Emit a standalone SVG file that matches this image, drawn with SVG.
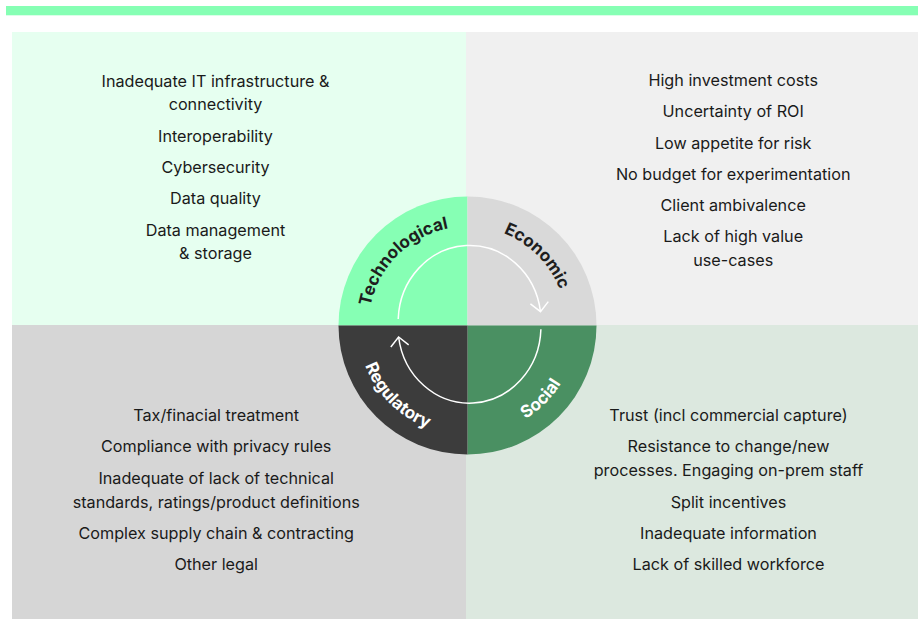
<svg xmlns="http://www.w3.org/2000/svg" width="918" height="632" viewBox="0 0 918 632">
  <style>
    .item { font-family: Inter, "Liberation Sans", Arial, sans-serif; font-size: 16.2px; fill: #1a1a1a; text-anchor: middle; }
    .seg { font-family: Inter, "Liberation Sans", Arial, sans-serif; font-size: 17px; font-weight: 700; text-anchor: middle; }
    .dark { fill: #1e1e1e; }
    .light { fill: #ffffff; }
    .cycle { fill: none; stroke: #ffffff; stroke-width: 1.5; }
  </style>
  <defs>
    <marker id="chev" markerUnits="userSpaceOnUse" markerWidth="24" markerHeight="24" refX="12" refY="12" orient="auto" viewBox="0 0 24 24">
      <path d="M3,3 L12,12 L3,21" fill="none" stroke="#ffffff" stroke-width="1.5"/>
    </marker>
    <path id="arcTop" d="M368.5,325.5 A99,99 0 0 1 566.5,325.5"/>
    <path id="arcBottom" d="M357.5,325.5 A110,110 0 0 0 577.5,325.5"/>
  </defs>

  <rect width="918" height="632" fill="#ffffff"/>
  <!-- header strip -->
  <rect x="6" y="6" width="912" height="9.3" fill="#86ffb4"/>

  <!-- quadrant backgrounds -->
  <rect x="12" y="32" width="454" height="293" fill="#e6fff0"/>
  <rect x="466" y="32" width="452" height="293" fill="#f0f0f0"/>
  <rect x="12" y="325" width="454" height="294" fill="#d6d6d6"/>
  <rect x="466" y="325" width="452" height="294" fill="#dce8df"/>

  <!-- central wheel -->
  <g id="technological">
    <path d="M467.5,325.5 L338.5,325.5 A129,129 0 0 1 467.5,196.5 Z" fill="#86ffb4"/>
    <text class="seg dark"><textPath href="#arcTop" startOffset="25%">Technological</textPath></text>
  </g>
  <g id="economic">
    <path d="M467.5,325.5 L467.5,196.5 A129,129 0 0 1 596.5,325.5 Z" fill="#d9d9d9"/>
    <text class="seg dark"><textPath href="#arcTop" startOffset="75%">Economic</textPath></text>
  </g>
  <g id="social">
    <path d="M467.5,325.5 L596.5,325.5 A129,129 0 0 1 467.5,454.5 Z" fill="#4a9062"/>
    <text class="seg light"><textPath href="#arcBottom" startOffset="75%">Social</textPath></text>
  </g>
  <g id="regulatory">
    <path d="M467.5,325.5 L467.5,454.5 A129,129 0 0 1 338.5,325.5 Z" fill="#3c3c3c"/>
    <text class="seg light"><textPath href="#arcBottom" startOffset="25%">Regulatory</textPath></text>
  </g>

  <!-- cycle arrows -->
  <g id="connectors">
    <path class="cycle" d="M398.2,319 A71.5,76.5 0 0 1 540.5,311.7" marker-end="url(#chev)"/>
    <path class="cycle" d="M540.9,329.3 A71.5,76.5 0 0 1 398.6,337" marker-end="url(#chev)"/>
  </g>

  <!-- barrier lists -->
  <g id="technological-list">
    <text class="item" x="215.5" y="86.5">Inadequate IT infrastructure &amp;</text>
    <text class="item" x="215.5" y="110">connectivity</text>
    <text class="item" x="215.5" y="141.7">Interoperability</text>
    <text class="item" x="215.5" y="172.7">Cybersecurity</text>
    <text class="item" x="215.5" y="203.5">Data quality</text>
    <text class="item" x="215.5" y="235.5">Data management</text>
    <text class="item" x="215.5" y="259.3">&amp; storage</text>
  </g>
  <g id="economic-list">
    <text class="item" x="733.2" y="86">High investment costs</text>
    <text class="item" x="733.2" y="117.3">Uncertainty of ROI</text>
    <text class="item" x="733.2" y="148.5">Low appetite for risk</text>
    <text class="item" x="733.2" y="179.5">No budget for experimentation</text>
    <text class="item" x="733.2" y="210.7">Client ambivalence</text>
    <text class="item" x="733.2" y="242">Lack of high value</text>
    <text class="item" x="733.2" y="265.7">use-cases</text>
  </g>
  <g id="regulatory-list">
    <text class="item" x="216.2" y="421">Tax/finacial treatment</text>
    <text class="item" x="216.2" y="452">Compliance with privacy rules</text>
    <text class="item" x="216.2" y="484">Inadequate of lack of technical</text>
    <text class="item" x="216.2" y="507.5">standards, ratings/product definitions</text>
    <text class="item" x="216.2" y="539">Complex supply chain &amp; contracting</text>
    <text class="item" x="216.2" y="570">Other legal</text>
  </g>
  <g id="social-list">
    <text class="item" x="728.5" y="421">Trust (incl commercial capture)</text>
    <text class="item" x="728.5" y="452">Resistance to change/new</text>
    <text class="item" x="728.5" y="476">processes. Engaging on-prem staff</text>
    <text class="item" x="728.5" y="507.7">Split incentives</text>
    <text class="item" x="728.5" y="539">Inadequate information</text>
    <text class="item" x="728.5" y="570">Lack of skilled workforce</text>
  </g>
</svg>
